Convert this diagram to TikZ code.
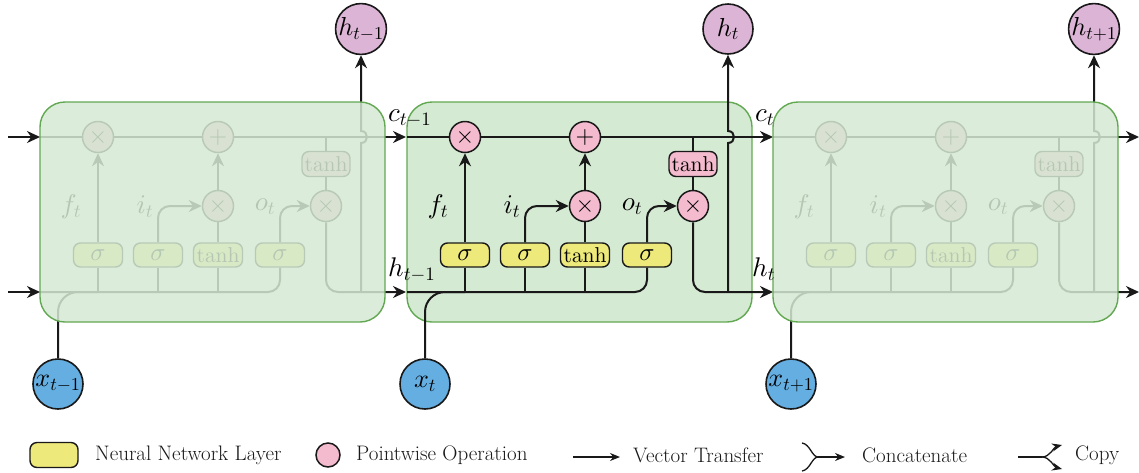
\documentclass[tikz,border=0pt]{standalone}
\usetikzlibrary{arrows.meta}

% scalable Computer Modern for math at any size
\DeclareFontShape{OML}{cmm}{m}{it}{<->cmmi10}{}
\DeclareFontShape{OT1}{cmr}{m}{n}{<->cmr10}{}
\DeclareFontShape{OMS}{cmsy}{m}{n}{<->cmsy10}{}

\definecolor{cellfill}{RGB}{213,234,211}
\definecolor{celldraw}{RGB}{98,168,82}
\definecolor{layerfill}{RGB}{237,233,122}
\definecolor{opfill}{RGB}{244,186,206}
\definecolor{outfill}{RGB}{219,180,214}
\definecolor{infill}{RGB}{100,174,226}
\definecolor{ink}{RGB}{25,25,25}

\newcommand\sig{{\fontsize{25}{28}\selectfont$\sigma$}}

\tikzset{
  x=1pt, y=-1pt,
  wire/.style={line width=2pt, draw=ink},
  flow/.style={wire, -{Stealth[length=13pt,width=12pt]}},
  thinflow/.style={line width=1.3pt, draw=ink, -{Stealth[length=10pt,width=8pt]}},
  nnlayer/.style={draw=ink, line width=1.4pt, fill=layerfill, rounded corners=7pt,
    minimum width=49pt, minimum height=24pt, inner sep=0pt,
    font=\fontsize{21.5}{25}\selectfont},
  op/.style={circle, draw=ink, line width=1.5pt, fill=opfill, minimum size=31pt,
    inner sep=0pt, font=\fontsize{24}{28}\selectfont},
  optanh/.style={nnlayer, fill=opfill, minimum width=48pt, minimum height=25pt},
  hout/.style={circle, draw=ink, line width=1.6pt, fill=outfill, minimum size=50pt,
    inner sep=0pt, font=\fontsize{26}{30}\selectfont},
  xin/.style={hout, fill=infill},
  cellbox/.style={draw=celldraw, line width=1.4pt, fill=cellfill, rounded corners=25pt,
    minimum width=345pt, minimum height=220pt, inner sep=0pt},
  gate/.style={inner sep=0pt, font=\fontsize{27}{31}\selectfont},
  legendtext/.style={anchor=west, inner sep=0pt, text=ink, font=\fontsize{21}{25}\selectfont},
}

% One LSTM unit; #1 left edge, #2 name prefix, #3 output label, #4 input label
\newcommand\lstmbody[4]{%
\begin{scope}[shift={(#1,0)}]
  \node[op] (#2fx) at (58,137) {$\times$};
  \node[op] (#2add) at (178,137) {$+$};
  \node[op] (#2ix) at (178,206) {$\times$};
  \node[op] (#2ox) at (286,206) {$\times$};
  \node[optanh] (#2ct) at (286,164) {$\tanh$};
  \node[nnlayer] (#2sf) at (58,255) {\sig};
  \node[nnlayer] (#2si) at (118,255) {\sig};
  \node[nnlayer] (#2tg) at (178,255) {$\tanh$};
  \node[nnlayer] (#2so) at (240,255) {\sig};
  \node[gate] (#2fl) at (31,207) {$f_t$};
  \node[gate] (#2il) at (105,207) {$i_t$};
  \node[gate] (#2ol) at (225,207) {$o_t$};
  \node[hout] (#2h) at (321,29) {$#3$};
  \node[xin] (#2x) at (18,384) {$#4$};
  \coordinate (#2cin) at (0,137);
  \coordinate (#2cout) at (366,137);
  \coordinate (#2hin) at (0,292);
  \coordinate (#2hout) at (366,292);
  \coordinate (#2jf) at (58,292);
  \coordinate (#2ji) at (118,292);
  \coordinate (#2jg) at (178,292);
  \coordinate (#2jo) at (240,292);
  \coordinate (#2jc) at (286,137);
  \coordinate (#2tap) at (321,292);
  \coordinate (#2hopb) at (321,143);
  \coordinate (#2hopt) at (321,131);
  % cell state
  \draw[wire] (#2cin) -- (#2fx);
  \draw[wire] (#2fx) -- (#2add);
  \draw[flow] (#2add) -- (#2cout);
  % hidden state and input
  \draw[wire, rounded corners=12pt] (#2hin) -- (#2jo) -- (#2so.south);
  \draw[wire, rounded corners=20pt] (#2x.north) |- (#2jf);
  \draw[wire] (#2jf) -- (#2sf.south);
  \draw[wire] (#2ji) -- (#2si.south);
  \draw[wire] (#2jg) -- (#2tg.south);
  % gates
  \draw[flow] (#2sf.north) -- (#2fx.south);
  \draw[flow, rounded corners=12pt] (#2si.north) |- (#2ix.west);
  \draw[wire] (#2tg.north) -- (#2ix.south);
  \draw[flow] (#2ix.north) -- (#2add.south);
  \draw[flow, rounded corners=12pt] (#2so.north) |- (#2ox.west);
  \draw[wire] (#2jc) -- (#2ct.north);
  \draw[wire] (#2ct.south) -- (#2ox.north);
  \draw[flow, rounded corners=12pt] (#2ox.south) |- (#2hout);
  % output copy hopping over the cell state
  \draw[flow] (#2tap) -- (#2hopb) .. controls +(8,0) and +(8,0) .. (#2hopt) -- (#2h.south);
\end{scope}}

\begin{document}
\begin{tikzpicture}
\useasboundingbox (0,0) rectangle (1139,472);

% left unit, faded behind its box
\lstmbody{40}{a-}{h_{t-1}}{x_{t-1}}
\node[cellbox, fill opacity=0.85] (a-box) at (212.5,212) {};
\coordinate (c0) at (8,137);
\coordinate (h0) at (8,292);
\draw[flow] (c0) -- (a-cin);
\draw[flow] (h0) -- (a-hin);

% middle unit, in full view
\node[cellbox] (b-box) at (579.5,212) {};
\lstmbody{407}{b-}{h_t}{x_t}

% right unit, faded behind its box
\lstmbody{773}{c-}{h_{t+1}}{x_{t+1}}
\node[cellbox, fill opacity=0.85] (c-box) at (945.5,212) {};

% states passed between units
\node[gate, anchor=base west] (lc1) at (388,121) {$c_{t-1}$};
\node[gate, anchor=base west] (lh1) at (388,276) {$h_{t-1}$};
\node[gate, anchor=base west] (lc2) at (755,121) {$c_t$};
\node[gate, anchor=base west] (lh2) at (752,276) {$h_t$};

% legend
\node[nnlayer, minimum width=48pt, minimum height=25pt] (lg1) at (54,455) {};
\node[legendtext] (lt1) at (95,455) {Neural Network Layer};
\node[circle, draw=ink, line width=1.5pt, fill=opfill, minimum size=24pt, inner sep=0pt] (lg2) at (328,455) {};
\node[legendtext] (lt2) at (356,455) {Pointwise Operation};
\coordinate (va) at (573,457);
\coordinate (vb) at (620,457);
\draw[thinflow] (va) -- (vb);
\node[legendtext] (lt3) at (633,455) {Vector Transfer};
\coordinate (ka) at (802,443);
\coordinate (kb) at (802,471);
\coordinate (km) at (818,457);
\coordinate (ke) at (845,457);
\draw[line width=1.3pt, draw=ink] (ka) .. controls (810,444) and (812,457) .. (km);
\draw[line width=1.3pt, draw=ink] (kb) .. controls (810,470) and (812,457) .. (km);
\draw[thinflow] (km) -- (ke);
\node[legendtext] (lt4) at (862,455) {Concatenate};
\coordinate (pa) at (1018,457);
\coordinate (pm) at (1042,457);
\coordinate (pu) at (1062,445);
\coordinate (pd) at (1062,469);
\draw[line width=1.3pt, draw=ink] (pa) -- (pm);
\draw[thinflow] (pm) .. controls (1050,457) and (1054,447) .. (pu);
\draw[thinflow] (pm) .. controls (1050,457) and (1054,467) .. (pd);
\node[legendtext] (lt5) at (1075,455) {Copy};
\end{tikzpicture}
\end{document}
